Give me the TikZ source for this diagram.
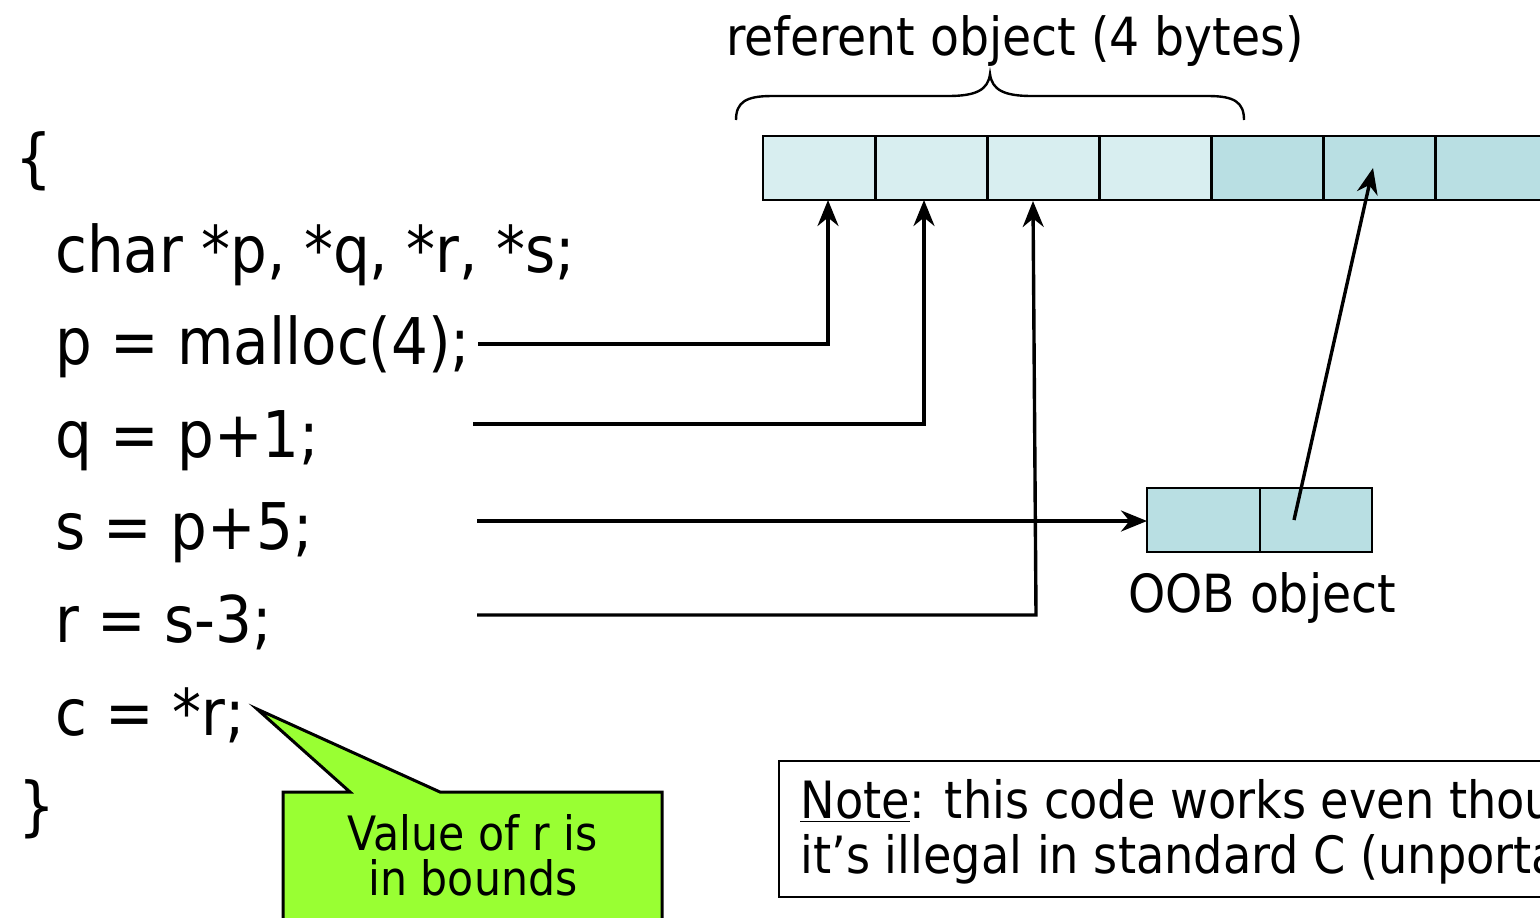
\documentclass[tikz,border=0pt]{standalone}
\usepackage{fontspec}
\setmainfont{DejaVu Sans Condensed}
\usetikzlibrary{arrows.meta}
\definecolor{cellpale}{HTML}{D8EEF0}
\definecolor{cellteal}{HTML}{B9DFE3}
\definecolor{calloutgreen}{HTML}{99FF33}

\begin{document}
\begin{tikzpicture}[x=0.5pt,y=-0.5pt,
  codeline/.style={anchor=base west, inner sep=0pt, font=\fontsize{32.2}{38}\selectfont},
  caption/.style={anchor=base, inner sep=0pt, font=\fontsize{26.3}{32}\selectfont},
  notetext/.style={anchor=base west, inner sep=0pt, font=\fontsize{25.7}{31}\selectfont},
  calltext/.style={anchor=base, inner sep=0pt, font=\fontsize{23.7}{28}\selectfont},
  cellbox/.style={draw=black, line width=1.3pt, minimum width=56pt, minimum height=32pt, inner sep=0pt, outer sep=0pt},
  ptr/.style={line width=1.7pt, -{Stealth[length=13pt,width=10.5pt]}},
]
\useasboundingbox (0,0) rectangle (1540,917);
\clip (0,0) rectangle (1540,917);

% source code
\node[codeline] (open)  at (15,180) {\{};
\node[codeline] (decl)  at (55,272) {char *p, *q, *r, *s;};
\node[codeline] (lp)    at (55,364.6) {p = malloc(4);};
\node[codeline] (lq)    at (55,457.2) {q = p+1;};
\node[codeline] (ls)    at (55,549.8) {s = p+5;};
\node[codeline] (lr)    at (55,642.4) {r = s-3;};
\node[codeline] (lc)    at (55,735) {c = *r;};
\node[codeline] (close) at (18,828) {\}};

% memory: the 4-byte referent followed by neighbouring bytes
\foreach \i/\col in {1/cellpale,2/cellpale,3/cellpale,4/cellpale,5/cellteal,6/cellteal,7/cellteal}
  \node[cellbox, fill=\col] (c\i) at ({763+112.14*(\i-0.5)},168) {};

% brace over the referent
\draw[line width=1.2pt] (736,120) .. controls (736,102) and (746,96) .. (772,96)
  -- (948,96) .. controls (976,96) and (988,90) .. (990,74)
  .. controls (992,90) and (1004,96) .. (1032,96)
  -- (1208,96) .. controls (1234,96) and (1244,102) .. (1244,120);
\node[caption] (title) at (1015,55) {referent object (4 bytes)};

% out-of-bounds object
\node[cellbox, fill=cellteal, minimum width=56.5pt] (o1) at (1203.5,520) {};
\node[cellbox, fill=cellteal] (o2) at (1316,520) {};
\node[caption] (ooblabel) at (1262,612) {OOB object};

% pointers
\coordinate (pstart) at (478,344);
\coordinate (pbend)  at (828,344);
\coordinate (qstart) at (473,424);
\coordinate (qbend)  at (924,424);
\coordinate (sstart) at (477,521);
\coordinate (rstart) at (477,615);
\coordinate (rbend)  at (1036,615);
\coordinate (rtip)   at (1033,201);
\coordinate (oobptr) at (1294,520);
\coordinate (ooptip) at (1373,168);

\draw[ptr] (pstart) -- (pbend) -- (pbend |- c1.south);
\draw[ptr] (qstart) -- (qbend) -- (qbend |- c2.south);
\draw[ptr] (rstart) -- (rbend) -- (rtip);
\draw[ptr] (sstart) -- (sstart -| o1.west);
\draw[ptr] (oobptr) -- (ooptip);

% callout
\draw[line width=1.5pt, fill=calloutgreen, line join=miter]
  (283,792) -- (350,792) -- (257,709) -- (440,792) -- (662,792) -- (662,925) -- (283,925) -- cycle;
\node[calltext] (call1) at (473,850) {Value of r is};
\node[calltext] (call2) at (473,895) {in bounds};

% note
\draw[line width=1pt] (779,761) rectangle (1560,897);
\node[notetext] (note1) at (800,818) {\underline{Note}: this code works even though};
\node[notetext] (note2) at (800,873) {it’s illegal in standard C (unportable)};
\end{tikzpicture}
\end{document}
